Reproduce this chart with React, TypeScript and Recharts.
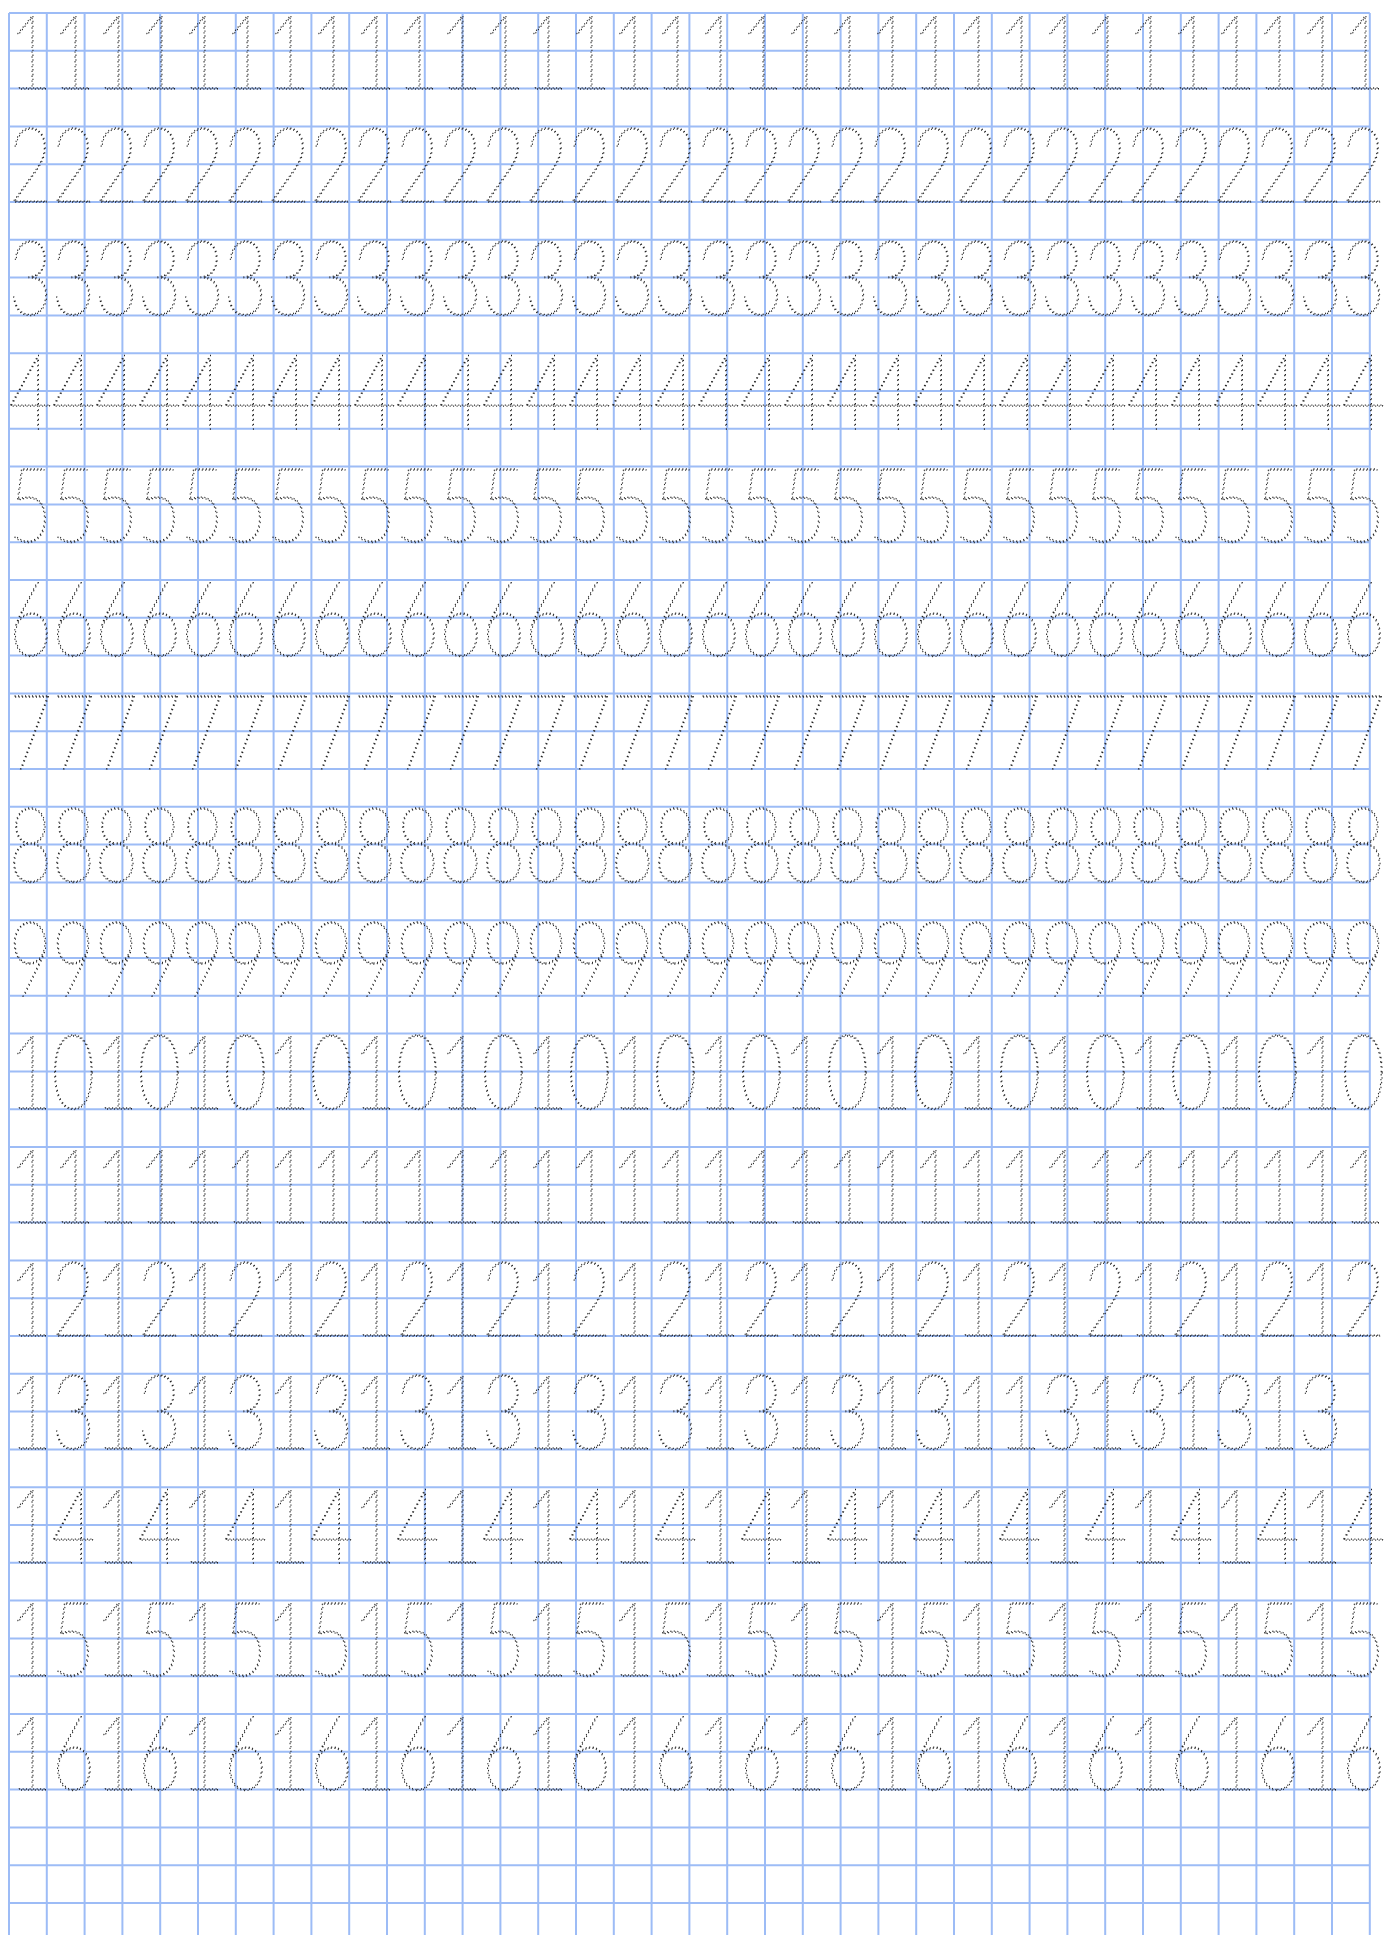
import { ScatterChart, Scatter, XAxis, YAxis, CartesianGrid } from "recharts";

// practice sheet: one string of digits per line, baseline in grid rows
const rowLabels = [
  "11111111111111111111111111111111",
  "22222222222222222222222222222222",
  "33333333333333333333333333333333",
  "44444444444444444444444444444444",
  "55555555555555555555555555555555",
  "66666666666666666666666666666666",
  "77777777777777777777777777777777",
  "88888888888888888888888888888888",
  "99999999999999999999999999999999",
  "10101010101010101010101010101010",
  "11111111111111111111111111111111",
  "12121212121212121212121212121212",
  "1313131313131313131313113131313",
  "14141414141414141414141414141414",
  "15151515151515151515151515151515",
  "16161616161616161616161616161616",
];
const rowBaselines = [2, 5, 8, 11, 14, 17, 20, 23, 26, 29, 32, 35, 38, 41, 44, 47];
const gridColumns = [0, 1, 2, 3, 4, 5, 6, 7, 8, 9, 10, 11, 12, 13, 14, 15, 16, 17, 18, 19, 20, 21, 22, 23, 24, 25, 26, 27, 28, 29, 30, 31, 32, 33, 34, 35, 36];
const gridRows = [0, 1, 2, 3, 4, 5, 6, 7, 8, 9, 10, 11, 12, 13, 14, 15, 16, 17, 18, 19, 20, 21, 22, 23, 24, 25, 26, 27, 28, 29, 30, 31, 32, 33, 34, 35, 36, 37, 38, 39, 40, 41, 42, 43, 44, 45, 46, 47, 48, 49, 50];

const CELL = 37.8;
const GLYPH_COLS = 43 / CELL; // one traced digit, in grid columns
const WIDTH = 1399;
const HEIGHT = 1935;
const MARGIN = { top: 13, left: 9, right: WIDTH - 9 - 36 * CELL, bottom: 0 };
const ROWS_VISIBLE = (HEIGHT - MARGIN.top) / CELL;

const glyphs = rowLabels.flatMap((label, r) =>
  label.split("").map((ch, k) => ({ x: (k + 0.5) * GLYPH_COLS, y: rowBaselines[r], ch }))
);

// hairline font, outlined with a dotted stroke so it reads as a tracing guide
function Digit(props: any) {
  const { cx, cy, payload } = props;
  if (cx == null || cy == null) return null;
  return (
    <text
      transform={`translate(${cx},${cy}) scale(0.72,1)`}
      textAnchor="middle"
      fontFamily="Lato"
      fontWeight={100}
      fontSize={105}
      fill="none"
      stroke="#222"
      strokeWidth={1.2}
      strokeDasharray="1.2 3"
      vectorEffect="non-scaling-stroke"
    >
      {payload.ch}
    </text>
  );
}

export default function App() {
  return (
    <div>
      <style>{`body{margin:0;overflow:hidden}`}</style>
      <ScatterChart width={WIDTH} height={HEIGHT} margin={MARGIN}>
        <CartesianGrid
          stroke="#9dbcf6"
          strokeWidth={2}
          verticalValues={gridColumns}
          horizontalValues={gridRows}
        />
        <XAxis type="number" dataKey="x" domain={[0, 36]} hide />
        <YAxis type="number" dataKey="y" domain={[0, ROWS_VISIBLE]} reversed hide />
        <Scatter data={glyphs} shape={Digit} isAnimationActive={false} />
      </ScatterChart>
    </div>
  );
}
